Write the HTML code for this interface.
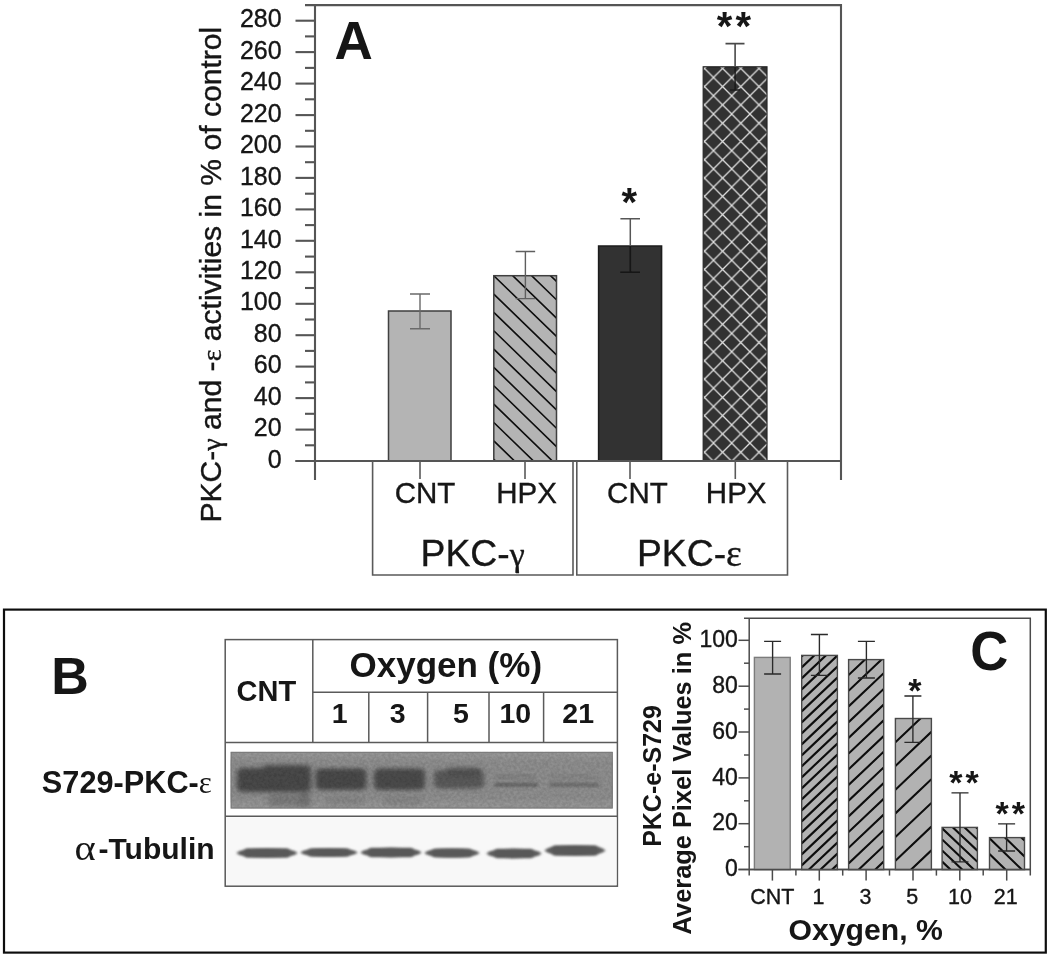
<!DOCTYPE html><html><head><meta charset="utf-8"><title>Figure</title><style>html,body{margin:0;padding:0;background:#fff}svg{display:block}text{font-family:"Liberation Sans",sans-serif;fill:#141414}.s{font-family:"Liberation Serif",serif}.b{font-weight:bold}.r{stroke:#141414;stroke-width:.35}</style></head><body>
<svg width="1050" height="957" viewBox="0 0 1050 957">
<defs>
<pattern id="hA4" patternUnits="userSpaceOnUse" x="713.5" y="77.5" width="18.2" height="18.28"><path d="M-9.1,-9.14L27.299999999999997,27.42M-9.1,27.42L27.299999999999997,-9.14" stroke="#e0e0e0" stroke-width="1.3" fill="none"/></pattern>
<filter id="bl1" x="-20%" y="-50%" width="140%" height="200%"><feGaussianBlur stdDeviation="2.5 2.2"/></filter>
<filter id="bl2" x="-20%" y="-50%" width="140%" height="200%"><feGaussianBlur stdDeviation="1.7 1.2"/></filter>
<filter id="bl3" x="-20%" y="-80%" width="140%" height="260%"><feGaussianBlur stdDeviation="1.8 1.0"/></filter>
<filter id="noise" x="0" y="0" width="100%" height="100%"><feTurbulence type="fractalNoise" baseFrequency="0.35" numOctaves="2" seed="7"/><feColorMatrix type="matrix" values="0 0 0 0 0  0 0 0 0 0  0 0 0 0 0  2.2 0 0 0 -0.6"/></filter>
<filter id="soft"><feGaussianBlur stdDeviation="0.5"/></filter>
</defs>
<rect width="1050" height="957" fill="#fff"/>
<g filter="url(#soft)">
<g stroke="#555" stroke-width="2.1" fill="none">
<path d="M305,5.1H841V480M315,5.1V480M295.5,461.0H841"/>
<path d="M305,445.3H315"/>
<path d="M295.5,429.6H315"/>
<path d="M305,413.8H315"/>
<path d="M295.5,398.1H315"/>
<path d="M305,382.4H315"/>
<path d="M295.5,366.6H315"/>
<path d="M305,350.9H315"/>
<path d="M295.5,335.2H315"/>
<path d="M305,319.5H315"/>
<path d="M295.5,303.8H315"/>
<path d="M305,288.0H315"/>
<path d="M295.5,272.3H315"/>
<path d="M305,256.6H315"/>
<path d="M295.5,240.8H315"/>
<path d="M305,225.1H315"/>
<path d="M295.5,209.4H315"/>
<path d="M305,193.7H315"/>
<path d="M295.5,177.9H315"/>
<path d="M305,162.2H315"/>
<path d="M295.5,146.5H315"/>
<path d="M305,130.8H315"/>
<path d="M295.5,115.1H315"/>
<path d="M305,99.3H315"/>
<path d="M295.5,83.6H315"/>
<path d="M305,67.9H315"/>
<path d="M295.5,52.1H315"/>
<path d="M305,36.4H315"/>
<path d="M295.5,20.7H315"/>
</g>
<text class="r" x="281.6" y="467.7" font-size="25" text-anchor="end">0</text>
<text class="r" x="281.6" y="436.2" font-size="25" text-anchor="end">20</text>
<text class="r" x="281.6" y="404.8" font-size="25" text-anchor="end">40</text>
<text class="r" x="281.6" y="373.3" font-size="25" text-anchor="end">60</text>
<text class="r" x="281.6" y="341.9" font-size="25" text-anchor="end">80</text>
<text class="r" x="281.6" y="310.4" font-size="25" text-anchor="end">100</text>
<text class="r" x="281.6" y="279.0" font-size="25" text-anchor="end">120</text>
<text class="r" x="281.6" y="247.5" font-size="25" text-anchor="end">140</text>
<text class="r" x="281.6" y="216.1" font-size="25" text-anchor="end">160</text>
<text class="r" x="281.6" y="184.6" font-size="25" text-anchor="end">180</text>
<text class="r" x="281.6" y="153.2" font-size="25" text-anchor="end">200</text>
<text class="r" x="281.6" y="121.8" font-size="25" text-anchor="end">220</text>
<text class="r" x="281.6" y="90.3" font-size="25" text-anchor="end">240</text>
<text class="r" x="281.6" y="58.8" font-size="25" text-anchor="end">260</text>
<text class="r" x="281.6" y="27.4" font-size="25" text-anchor="end">280</text>
<text class="r" transform="translate(221,522.6) rotate(-90)" font-size="30.1">PKC-<tspan class="s" font-size="28">γ</tspan> and -<tspan class="s" font-size="28">ε</tspan> activities in % of control</text>
<rect x="388.5" y="311" width="62.5" height="150.0" fill="#b4b4b4"/>
<rect x="388.5" y="311" width="62.5" height="150.0" fill="none" stroke="#3f3f3f" stroke-width="1.5"/>
<rect x="493.8" y="275.7" width="62.7" height="185.3" fill="#b4b4b4"/>
<clipPath id="c1"><rect x="493.8" y="275.7" width="62.7" height="185.3"/></clipPath>
<path d="M493.8,220.6L556.5,281.5M493.8,239.0L556.5,299.8M493.8,257.3L556.5,318.2M493.8,275.7L556.5,336.5M493.8,294.1L556.5,354.9M493.8,312.4L556.5,373.2M493.8,330.8L556.5,391.6M493.8,349.1L556.5,409.9M493.8,367.4L556.5,428.3M493.8,385.8L556.5,446.6M493.8,404.1L556.5,465.0M493.8,422.5L556.5,483.3M493.8,440.9L556.5,501.7M493.8,459.2L556.5,520.0" stroke="#0c0c0c" stroke-width="1.6" fill="none" clip-path="url(#c1)"/>
<rect x="493.8" y="275.7" width="62.7" height="185.3" fill="none" stroke="#3f3f3f" stroke-width="1.5"/>
<rect x="598.6" y="246" width="63.0" height="215.0" fill="#303030"/>
<rect x="598.6" y="246" width="63.0" height="215.0" fill="none" stroke="#1e1e1e" stroke-width="1.5"/>
<rect x="703.2" y="66.8" width="63.8" height="394.2" fill="#303030"/>
<rect x="703.2" y="66.8" width="63.8" height="394.2" fill="url(#hA4)"/>
<rect x="703.2" y="66.8" width="63.8" height="394.2" fill="none" stroke="#262626" stroke-width="1.2"/>
<path d="M410.0,294H430.0M410.0,328.7H430.0M420,294V328.7" stroke="#6a6a6a" stroke-width="1.4" fill="none"/>
<path d="M515.65,251.5H535.15M515.65,298.6H535.15M525.4,251.5V298.6" stroke="#5e5e5e" stroke-width="1.4" fill="none"/>
<path d="M620.4,218.8H640M630.3,218.8V246" stroke="#565656" stroke-width="1.5" fill="none"/><path d="M630.3,246V272.3M620.4,272.3H640" stroke="#121212" stroke-width="1.5" fill="none"/>
<path d="M725.5,43.6H744.5M735.1,43.6V67" stroke="#4a4a4a" stroke-width="1.6"/>
<path d="M735.1,67V90M730,90H740" stroke="#1c1c1c" stroke-width="1.4"/>
<path d="M295.5,461.0H841" stroke="#555" stroke-width="2.1"/>
<g stroke="#5a5a5a" stroke-width="1.6" fill="none">
<path d="M420,461.0V479"/>
<path d="M525,461.0V479"/>
<path d="M630,461.0V479"/>
<path d="M735.3,461.0V479"/>
<path d="M372.6,461.0V575H573V461.0M576.8,461.0V575H787.5V461.0"/>
</g>
<text class="r" x="425" y="503" font-size="29.5" text-anchor="middle">CNT</text>
<text class="r" x="526.6" y="503" font-size="29.5" text-anchor="middle">HPX</text>
<text class="r" x="637.4" y="503" font-size="29.5" text-anchor="middle">CNT</text>
<text class="r" x="736.2" y="503" font-size="29.5" text-anchor="middle">HPX</text>
<text class="r" x="472.6" y="566" font-size="37.3" text-anchor="middle">PKC-<tspan class="s" font-size="34">γ</tspan></text>
<text class="r" x="689.4" y="566" font-size="37.3" text-anchor="middle">PKC-<tspan class="s" font-size="37.5">ε</tspan></text>
<text x="334.5" y="59.3" font-size="53" class="b" fill="#000">A</text>
<text x="621.6" y="215.5" font-size="40" class="b" fill="#000">*</text>
<text x="716.8" y="39.8" font-size="40" class="b" fill="#000" letter-spacing="3.2">**</text>
<rect x="4" y="609.6" width="1041.8" height="343" fill="none" stroke="#111" stroke-width="2.2"/>
<text x="51.2" y="694" font-size="52" class="b" fill="#000">B</text>
<g stroke="#5a5a5a" stroke-width="1.5" fill="none">
<rect x="225.2" y="639.6" width="392.2" height="246.6"/>
<path d="M312.8,639.6V742.4M312.8,692.3H617.4M225.2,742.4H617.4M225.2,816.3H617.4M368.8,692.3V742.4M427.6,692.3V742.4M489,692.3V742.4M543.6,692.3V742.4"/>
</g>
<text x="266.4" y="701.3" font-size="29" class="b" text-anchor="middle">CNT</text>
<text x="445.8" y="677" font-size="35" class="b" text-anchor="middle">Oxygen (%)</text>
<text x="339.8" y="723.2" font-size="28.5" class="b" text-anchor="middle">1</text>
<text x="397.7" y="723.2" font-size="28.5" class="b" text-anchor="middle">3</text>
<text x="460.9" y="723.2" font-size="28.5" class="b" text-anchor="middle">5</text>
<text x="515.3" y="723.2" font-size="28.5" class="b" text-anchor="middle">10</text>
<text x="578.2" y="723.2" font-size="28.5" class="b" text-anchor="middle">21</text>
<text x="211.8" y="793" font-size="30.7" class="b" text-anchor="end">S729-PKC-<tspan class="s" font-weight="normal" font-size="31">ε</tspan></text>
<text x="214.6" y="859.4" font-size="30" class="b" text-anchor="end">-Tubulin</text><text class="s" transform="translate(74.6,859.6) scale(1.14,1)" font-size="35.5">α</text>
<rect x="230.6" y="751.8" width="382.2" height="56.8" fill="#979797"/>
<clipPath id="cb"><rect x="230.6" y="751.8" width="382.2" height="56.8"/></clipPath>
<g clip-path="url(#cb)">
<rect x="228" y="759" width="388" height="42" fill="#8f8f8f" filter="url(#bl1)"/>
<g filter="url(#bl1)">
<rect x="237" y="768" width="74.0" height="24.0" rx="5" fill="#484848" opacity="1"/>
<rect x="262" y="765" width="49.0" height="11.0" rx="5" fill="#484848" opacity="0.9"/>
<rect x="315.5" y="768.5" width="51.0" height="21.5" rx="5" fill="#4a4a4a" opacity="1"/>
<rect x="374" y="768.5" width="51.0" height="21.5" rx="5" fill="#4c4c4c" opacity="1"/>
<rect x="434" y="770" width="50.0" height="18.5" rx="5" fill="#565656" opacity="0.95"/>
<rect x="446" y="767.5" width="36.0" height="8.5" rx="5" fill="#505050" opacity="0.8"/>
<rect x="268" y="794" width="42.0" height="12.0" rx="5" fill="#777" opacity="0.8"/>
<rect x="300" y="790" width="10.0" height="18.0" rx="5" fill="#6a6a6a" opacity="0.6"/>
<rect x="326" y="796" width="38.0" height="9.0" rx="5" fill="#808080" opacity="0.6"/>
<rect x="383" y="796" width="39.0" height="9.0" rx="5" fill="#808080" opacity="0.6"/>
</g>
<g filter="url(#bl3)">
<rect x="494" y="782.5" width="44.0" height="4.5" rx="1" fill="#686868" opacity="0.9"/>
<rect x="495" y="774" width="41.0" height="6.0" rx="1" fill="#828282" opacity="0.85"/>
<rect x="549" y="782.5" width="50.0" height="4.5" rx="1" fill="#707070" opacity="0.9"/>
<rect x="550" y="774" width="47.0" height="6.0" rx="1" fill="#868686" opacity="0.85"/>
</g>
<rect x="230.6" y="751.8" width="382.2" height="56.8" filter="url(#noise)" opacity=".10"/>
<rect x="231.1" y="752.3" width="381.2" height="55.8" fill="none" stroke="#7a7a7a" stroke-width="1.2"/>
</g>
<rect x="226.5" y="817.5" width="390" height="67.5" fill="#f8f8f8"/>
<g filter="url(#bl2)">
<ellipse cx="267.0" cy="853" rx="30.0" ry="5.0" fill="#5e5e5e"/>
<rect x="243" y="848.25" width="48" height="9.5" rx="4.5" fill="#585858"/>
<ellipse cx="329.0" cy="852.5" rx="28.0" ry="4.5" fill="#5e5e5e"/>
<rect x="307" y="848.25" width="44" height="8.5" rx="4.5" fill="#585858"/>
<ellipse cx="391.0" cy="852.5" rx="30.0" ry="5.0" fill="#5e5e5e"/>
<rect x="367" y="847.75" width="48" height="9.5" rx="4.5" fill="#585858"/>
<ellipse cx="452.0" cy="853" rx="27.0" ry="4.8" fill="#5e5e5e"/>
<rect x="431" y="848.5" width="42" height="9" rx="4.5" fill="#585858"/>
<ellipse cx="514.0" cy="853.5" rx="27.0" ry="5.0" fill="#5e5e5e"/>
<rect x="493" y="848.75" width="42" height="9.5" rx="4.5" fill="#585858"/>
<ellipse cx="575.0" cy="850.5" rx="30.0" ry="5.5" fill="#5e5e5e"/>
<rect x="551" y="845.25" width="48" height="10.5" rx="4.5" fill="#585858"/>
</g>
<g stroke="#4c4c4c" stroke-width="1.5" fill="none">
<path d="M744,618.2H1030.3V875.6M749.2,618.2V875.4M738.5,869.6H1030.3"/>
<path d="M744,846.7H749"/>
<path d="M738.5,823.7H749"/>
<path d="M744,800.8H749"/>
<path d="M738.5,777.9H749"/>
<path d="M744,755.0H749"/>
<path d="M738.5,732.0H749"/>
<path d="M744,709.1H749"/>
<path d="M738.5,686.2H749"/>
<path d="M744,663.2H749"/>
<path d="M738.5,640.3H749"/>
</g>
<text class="r" x="737.8" y="876.3" font-size="23" text-anchor="end">0</text>
<text class="r" x="737.8" y="830.4" font-size="23" text-anchor="end">20</text>
<text class="r" x="737.8" y="784.6" font-size="23" text-anchor="end">40</text>
<text class="r" x="737.8" y="738.7" font-size="23" text-anchor="end">60</text>
<text class="r" x="737.8" y="692.9" font-size="23" text-anchor="end">80</text>
<text class="r" x="737.8" y="647.0" font-size="23" text-anchor="end">100</text>
<rect x="754.4" y="657.4" width="35.8" height="212.2" fill="#b2b2b2"/>
<rect x="754.4" y="657.4" width="35.8" height="212.2" fill="none" stroke="#7c7c7c" stroke-width="1.4"/>
<rect x="801.7" y="655.4" width="35.7" height="214.2" fill="#b2b2b2"/>
<clipPath id="c2"><rect x="801.7" y="655.4" width="35.7" height="214.2"/></clipPath>
<path d="M801.7,656.4L837.4,622.5M801.7,667.4L837.4,633.5M801.7,678.4L837.4,644.5M801.7,689.4L837.4,655.5M801.7,700.4L837.4,666.5M801.7,711.4L837.4,677.5M801.7,722.4L837.4,688.5M801.7,733.4L837.4,699.5M801.7,744.4L837.4,710.5M801.7,755.4L837.4,721.5M801.7,766.4L837.4,732.5M801.7,777.4L837.4,743.5M801.7,788.4L837.4,754.5M801.7,799.4L837.4,765.5M801.7,810.4L837.4,776.5M801.7,821.4L837.4,787.5M801.7,832.4L837.4,798.5M801.7,843.4L837.4,809.5M801.7,854.4L837.4,820.5M801.7,865.4L837.4,831.5M801.7,876.4L837.4,842.5M801.7,887.4L837.4,853.5M801.7,898.4L837.4,864.5" stroke="#0c0c0c" stroke-width="2.1" fill="none" clip-path="url(#c2)"/>
<rect x="801.7" y="655.4" width="35.7" height="214.2" fill="none" stroke="#4a4a4a" stroke-width="1.4"/>
<rect x="848.6" y="659.6" width="35.1" height="210.0" fill="#b2b2b2"/>
<clipPath id="c3"><rect x="848.6" y="659.6" width="35.1" height="210.0"/></clipPath>
<path d="M848.6,659.4L883.7,626.1M848.6,675.1L883.7,641.8M848.6,690.8L883.7,657.5M848.6,706.5L883.7,673.2M848.6,722.2L883.7,688.9M848.6,737.9L883.7,704.6M848.6,753.6L883.7,720.3M848.6,769.3L883.7,736.0M848.6,785.0L883.7,751.7M848.6,800.7L883.7,767.4M848.6,816.4L883.7,783.1M848.6,832.1L883.7,798.8M848.6,847.8L883.7,814.5M848.6,863.5L883.7,830.2M848.6,879.2L883.7,845.9M848.6,894.9L883.7,861.6" stroke="#0c0c0c" stroke-width="2.1" fill="none" clip-path="url(#c3)"/>
<rect x="848.6" y="659.6" width="35.1" height="210.0" fill="none" stroke="#4a4a4a" stroke-width="1.4"/>
<rect x="895.4" y="718.5" width="36.0" height="151.1" fill="#b2b2b2"/>
<clipPath id="c4"><rect x="895.4" y="718.5" width="36.0" height="151.1"/></clipPath>
<path d="M895.4,718.6L931.4,684.4M895.4,742.3L931.4,708.1M895.4,766.0L931.4,731.8M895.4,789.7L931.4,755.5M895.4,813.4L931.4,779.2M895.4,837.1L931.4,802.9M895.4,860.8L931.4,826.6M895.4,884.5L931.4,850.3" stroke="#0c0c0c" stroke-width="2.1" fill="none" clip-path="url(#c4)"/>
<rect x="895.4" y="718.5" width="36.0" height="151.1" fill="none" stroke="#4a4a4a" stroke-width="1.4"/>
<rect x="942.1" y="827.4" width="35.3" height="42.2" fill="#b2b2b2"/>
<clipPath id="c5"><rect x="942.1" y="827.4" width="35.3" height="42.2"/></clipPath>
<path d="M942.1,795.0L977.4,828.5M942.1,806.1L977.4,839.6M942.1,817.2L977.4,850.7M942.1,828.3L977.4,861.8M942.1,839.4L977.4,872.9M942.1,850.5L977.4,884.0M942.1,861.6L977.4,895.1" stroke="#0c0c0c" stroke-width="2.1" fill="none" clip-path="url(#c5)"/>
<rect x="942.1" y="827.4" width="35.3" height="42.2" fill="none" stroke="#4a4a4a" stroke-width="1.4"/>
<rect x="989.5" y="837.6" width="35.0" height="32.0" fill="#b2b2b2"/>
<clipPath id="c6"><rect x="989.5" y="837.6" width="35.0" height="32.0"/></clipPath>
<path d="M989.5,806.7L1024.5,840.6M989.5,822.5L1024.5,856.5M989.5,838.3L1024.5,872.2M989.5,854.1L1024.5,888.0M989.5,869.9L1024.5,903.9" stroke="#0c0c0c" stroke-width="2.1" fill="none" clip-path="url(#c6)"/>
<rect x="989.5" y="837.6" width="35.0" height="32.0" fill="none" stroke="#4a4a4a" stroke-width="1.4"/>
<path d="M764.1,641.3H781.1M764.1,674H781.1M772.6,641.3V674" stroke="#2a2a2a" stroke-width="1.35" fill="none"/>
<path d="M810.9,634.5H827.9M810.9,675.4H827.9M819.4,634.5V675.4" stroke="#2a2a2a" stroke-width="1.35" fill="none"/>
<path d="M857.9,641.4H874.9M857.9,678H874.9M866.4,641.4V678" stroke="#2a2a2a" stroke-width="1.35" fill="none"/>
<path d="M904.4,696H921.4M904.4,742.3H921.4M912.9,696V742.3" stroke="#2a2a2a" stroke-width="1.35" fill="none"/>
<path d="M951.5,792.8H968.5M951.5,861.8H968.5M960,792.8V861.8" stroke="#2a2a2a" stroke-width="1.35" fill="none"/>
<path d="M998.1,823.8H1015.1M998.1,851H1015.1M1006.6,823.8V851" stroke="#2a2a2a" stroke-width="1.35" fill="none"/>
<g stroke="#4c4c4c" stroke-width="1.5" fill="none">
<path d="M738.5,869.6H1030.3"/>
<path d="M772.4,869.6V880.6"/>
<path d="M819.3,869.6V880.6"/>
<path d="M795.9,869.6V875.6"/>
<path d="M866.1,869.6V880.6"/>
<path d="M842.7,869.6V875.6"/>
<path d="M913.0,869.6V880.6"/>
<path d="M889.5,869.6V875.6"/>
<path d="M959.8,869.6V880.6"/>
<path d="M936.4,869.6V875.6"/>
<path d="M1006.7,869.6V880.6"/>
<path d="M983.2,869.6V875.6"/>
</g>
<text class="r" x="772.4" y="904" font-size="21.5" text-anchor="middle">CNT</text>
<text class="r" x="818.4" y="904" font-size="21.5" text-anchor="middle">1</text>
<text class="r" x="865.6" y="904" font-size="21.5" text-anchor="middle">3</text>
<text class="r" x="912.3" y="904" font-size="21.5" text-anchor="middle">5</text>
<text class="r" x="960.0" y="904" font-size="21.5" text-anchor="middle">10</text>
<text class="r" x="1005.8" y="904" font-size="21.5" text-anchor="middle">21</text>
<text x="865.6" y="939.8" font-size="30.2" class="b" text-anchor="middle">Oxygen, %</text>
<text transform="translate(661,776) rotate(-90)" font-size="25" class="b" text-anchor="middle">PKC-e-S729</text>
<text transform="translate(691.4,778.2) rotate(-90)" font-size="25.4" class="b" text-anchor="middle">Average Pixel Values in %</text>
<text transform="translate(970.2,669.6) scale(0.94,1)" font-size="56" class="b" fill="#000">C</text>
<text x="908.2" y="702.4" font-size="34" class="b" fill="#000">*</text>
<text x="949.2" y="793.8" font-size="34" class="b" fill="#000" letter-spacing="3.2">**</text>
<text x="995.4" y="824.7" font-size="34" class="b" fill="#000" letter-spacing="3.2">**</text>
</g>
</svg></body></html>
